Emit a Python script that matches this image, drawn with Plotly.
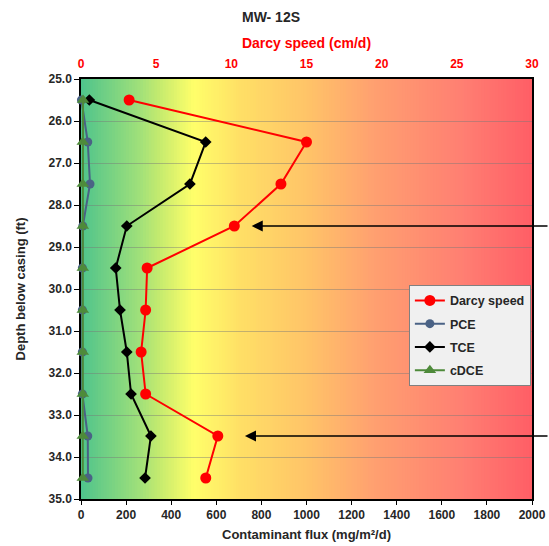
import numpy as np
import plotly.graph_objects as go

# ---- data ----
depth = [25.5, 26.5, 27.5, 28.5, 29.5, 30.5, 31.5, 32.5, 33.5, 34.5]
darcy_speed = [3.2, 15.0, 13.3, 10.2, 4.4, 4.3, 4.0, 4.3, 9.1, 8.3]   # cm/d (top axis)
pce_flux = [2, 30, 40, 8, 6, 6, 6, 6, 30, 31]                          # mg/m2/d
tce_flux = [37, 553, 483, 203, 154, 173, 203, 222, 310, 284]
cdce_flux = [9, 8, 8, 8, 8, 8, 8, 8, 8, 8]
arrow_depths = [28.5, 33.5]
arrow_heads = [757, 727]

# ---- style ----
FONT = "Liberation Sans, Arial, sans-serif"
TXT = "#262626"
grad_pos = [0.0, 0.13, 0.175, 0.25, 0.35, 0.5, 0.65, 0.85, 1.0]
grad_col = ["#4EC48C", "#A0E07A", "#C6EB6E", "#FFFF6A", "#FFE066",
            "#FFC468", "#FFA070", "#FF7E72", "#FF5E66"]


def hex2rgb(h):
    h = h.lstrip("#")
    return np.array([int(h[i:i + 2], 16) for i in (0, 2, 4)], dtype=float)


stops = np.array([hex2rgb(c) for c in grad_col])
N = 160
shapes = []
for i in range(N):
    t = (i + 0.5) / N
    rgb = [np.interp(t, grad_pos, stops[:, k]) for k in range(3)]
    col = "rgb(%d,%d,%d)" % tuple(int(round(v)) for v in rgb)
    shapes.append(dict(type="rect", xref="x domain", yref="y domain",
                       x0=i / N, x1=(i + 1) / N + 0.002, y0=0, y1=1,
                       fillcolor=col, line=dict(width=0), layer="below"))

fig = go.Figure()
fig.add_trace(go.Scatter(x=darcy_speed, y=depth, name="<b>Darcy speed</b>", xaxis="x2",
                         mode="lines+markers", legendgroup="a", cliponaxis=False,
                         line=dict(color="#FF0000", width=2),
                         marker=dict(symbol="circle", size=11, color="#FF0000")))
fig.add_trace(go.Scatter(x=pce_flux, y=depth, name="<b>PCE</b>",
                         mode="lines+markers", legendgroup="b", cliponaxis=False,
                         line=dict(color="#4A6285", width=2),
                         marker=dict(symbol="circle", size=9, color="#4A6285")))
fig.add_trace(go.Scatter(x=tce_flux, y=depth, name="<b>TCE</b>",
                         mode="lines+markers", legendgroup="c", cliponaxis=False,
                         line=dict(color="#000000", width=2),
                         marker=dict(symbol="diamond", size=9, color="#000000")))
fig.add_trace(go.Scatter(x=cdce_flux, y=depth, name="<b>cDCE</b>",
                         mode="lines+markers", legendgroup="d", cliponaxis=False,
                         line=dict(color="#4E8A3A", width=2),
                         marker=dict(symbol="triangle-up", size=11, color="#4E8A3A")))

annotations = []
for d, xh in zip(arrow_depths, arrow_heads):
    annotations.append(dict(x=xh, y=d, xref="x", yref="y", ax=310, ay=0,
                            showarrow=True, arrowhead=2, arrowsize=1.7,
                            arrowwidth=1.3, arrowcolor="black", text=""))

fig.update_layout(
    width=549, height=546,
    margin=dict(l=81, r=17, t=79, b=47),
    paper_bgcolor="white", plot_bgcolor="white",
    font=dict(family=FONT, color=TXT),
    title=dict(text="<b>MW- 12S</b>", x=271 / 549, xanchor="center", y=1 - 17 / 546,
               yanchor="middle", font=dict(size=14, color=TXT)),
    shapes=shapes,
    annotations=annotations,
    showlegend=True,
    legend=dict(x=0.727, y=0.51, xanchor="left", yanchor="top",
                bgcolor="#F0F0F0", bordercolor="#808080", borderwidth=1,
                font=dict(size=12.5, color=TXT, family=FONT),
                tracegroupgap=4, itemwidth=30),
    xaxis=dict(range=[0, 2000], dtick=200, tick0=0, showgrid=False, automargin=False,
               zeroline=False, showline=True, linecolor="black", linewidth=1.5,
               mirror=True, ticks="outside", ticklen=4, tickcolor="black",
               layer="below traces",
               tickfont=dict(size=12, color=TXT),
               title=dict(text="<b>Contaminant flux (mg/m²/d)</b>",
                          font=dict(size=13, color=TXT), standoff=9),
               tickprefix="<b>", ticksuffix="</b>"),
    xaxis2=dict(range=[0, 30], dtick=5, tick0=0, overlaying="x", side="top",
                showgrid=False, zeroline=False, showline=False, ticks="", automargin=False,
                ticklabelstandoff=8,
                tickfont=dict(size=12, color="#FF0000"),
                tickprefix="<b>", ticksuffix="</b>",
                title=dict(text="<b>Darcy speed (cm/d)</b>",
                           font=dict(size=14, color="#FF0000"), standoff=4)),
    yaxis=dict(range=[35, 25], dtick=1, tick0=25, tickformat=".1f", automargin=False,
               showgrid=True, gridcolor="rgba(120,120,120,0.45)", gridwidth=1,
               zeroline=False, showline=True, linecolor="black", linewidth=1.5,
               mirror=True, ticks="outside", ticklen=5, tickcolor="black",
               layer="below traces",
               tickfont=dict(size=12, color=TXT),
               tickprefix="<b>", ticksuffix="</b>",
               title=dict(text="<b>Depth below casing (ft)</b>",
                          font=dict(size=13, color=TXT), standoff=20)),
)

fig.write_html("out.html", config={"displayModeBar": False},
               post_script="document.body.style.margin='0';"
                           "document.body.style.overflow='hidden';")
